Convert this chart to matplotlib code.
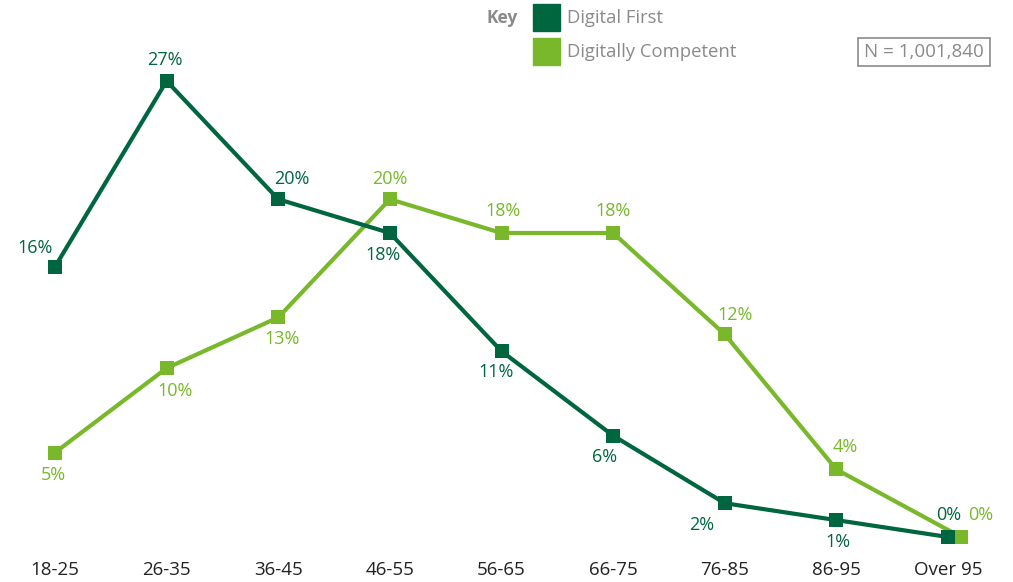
import numpy as np
import matplotlib
matplotlib.use("Agg")
import matplotlib.pyplot as plt
from matplotlib.patches import Rectangle

categories = ["18-25", "26-35", "36-45", "46-55", "56-65", "66-75", "76-85", "86-95", "Over 95"]
digital_first = [16, 27, 20, 18, 11, 6, 2, 1, 0]
digitally_competent = [5, 10, 13, 20, 18, 18, 12, 4, 0]
series_names = ["Digital First", "Digitally Competent"]
n_text = "N = 1,001,840"

DARK = "#00663f"
LIGHT = "#78b82a"
GREY = "#8a8a8a"
FONT = ["Open Sans", "DejaVu Sans"]
plt.rcParams["font.family"] = FONT

W, H = 1013, 582
fig = plt.figure(figsize=(W / 100, H / 100), dpi=100)
ax = fig.add_axes([0, 0, 1, 1])
step = (948 - 55) / 8
ax.set_xlim(-55 / step, 8 + (W - 948) / step)
pxy = (537 - 81) / 27
ax.set_ylim(-(H - 537) / pxy, 27 + 81 / pxy)
ax.axis("off")

x = np.arange(len(categories), dtype=float)
last_shift = 13 / step  # light marker sits beside the dark one in the last category
x_light = x.copy()
x_light[-1] += last_shift

ax.plot(x_light, digitally_competent, color=LIGHT, lw=3, marker="s", ms=10,
        markeredgewidth=0, zorder=3, solid_joinstyle="miter")
ax.plot(x, digital_first, color=DARK, lw=3, marker="s", ms=10,
        markeredgewidth=0, zorder=4, solid_joinstyle="miter")

# label offsets in pixels (dx, dy up)
dark_off = [(-20, 19), (-2, 21), (14, 20), (-7, -22), (-5, -21), (-9, -21), (-23, -22), (2, -22), (1, 22)]
light_off = [(-2, -22), (8, -23), (4, -22), (0, 20), (2, 22), (0, 22), (10, 19), (9, 22), (20, 22)]
px2pt = 72 / 100

for xs, vals, offs, col in [(x, digital_first, dark_off, DARK),
                            (x_light, digitally_competent, light_off, LIGHT)]:
    for xi, v, (dx, dy) in zip(xs, vals, offs):
        ax.annotate(f"{v}%", (xi, v), xytext=(dx * px2pt, dy * px2pt),
                    textcoords="offset points", ha="center", va="center",
                    fontsize=13, color=col, zorder=5)

for xi, c in zip(x, categories):
    ax.annotate(c, (xi, 0), xytext=(0, -33 * px2pt), textcoords="offset points",
                ha="center", va="center", fontsize=13.5, color="#222222")

# legend
def fx(px):
    return px / W

def fy(py):
    return 1 - py / H

fig.text(fx(518), fy(18), "Key", ha="right", va="center", fontsize=12.5,
         fontweight="bold", color=GREY)
for i, (name, col) in enumerate(zip(series_names, [DARK, LIGHT])):
    top = 4 + i * 34
    fig.patches.append(Rectangle((fx(533), fy(top + 27)), 27 / W, 27 / H,
                                 transform=fig.transFigure, color=col))
    fig.text(fx(567), fy(top + 14), name, ha="left", va="center",
             fontsize=13.3, color=GREY)

fig.patches.append(Rectangle((fx(858), fy(66)), 132 / W, 28 / H,
                             transform=fig.transFigure, fill=False,
                             edgecolor=GREY, lw=1.2))
fig.text(fx(924), fy(52), n_text, ha="center", va="center", fontsize=13.5, color=GREY)

fig.savefig("out.png", dpi=100)
